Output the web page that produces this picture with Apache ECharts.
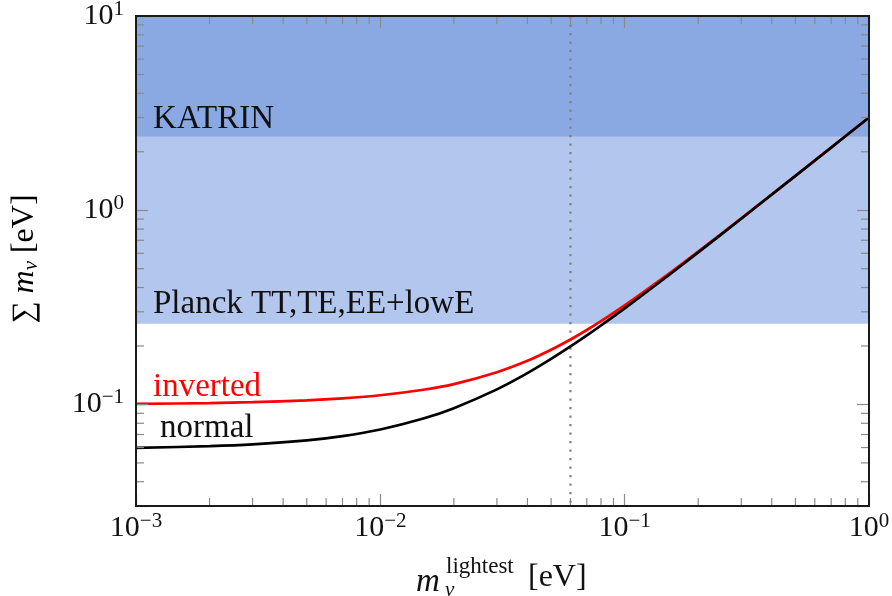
<!DOCTYPE html>
<html>
<head>
<meta charset="utf-8">
<script src="https://cdn.jsdelivr.net/npm/echarts@6/dist/echarts.min.js"></script>
<style>
  html, body { margin: 0; padding: 0; background: #fff; }
  #chart { width: 892px; height: 596px; }
</style>
</head>
<body>
<div id="chart"></div>
<script>
// Sum of neutrino masses versus the lightest neutrino mass (eV), both orderings.
const xMin = 0.001, xMax = 1;
const yMin = 0.03, yMax = 10;

const mLightest   = [0.001, 0.002, 0.003, 0.005, 0.007, 0.01, 0.015, 0.02, 0.03, 0.04, 0.05, 0.06, 0.07, 0.08, 0.1, 0.15, 0.2, 0.3, 0.5, 0.7, 1.0];
const sumNormal   = [0.0597, 0.0610, 0.0623, 0.0653, 0.0687, 0.0743, 0.0846, 0.0957, 0.1196, 0.1450, 0.1715, 0.1988, 0.2266, 0.2549, 0.3122, 0.4584, 0.6064, 0.9043, 1.5026, 2.1018, 3.0013];
const sumInverted = [0.1006, 0.1016, 0.1027, 0.1050, 0.1075, 0.1115, 0.1190, 0.1273, 0.1466, 0.1677, 0.1912, 0.2159, 0.2418, 0.2684, 0.3235, 0.4661, 0.6122, 0.9082, 1.5050, 2.1035, 3.0025];

// Excluded regions: Planck TT,TE,EE+lowE (sum > 0.26 eV) and KATRIN (sum > 2.4 eV)
const bandNames = ['Planck TT,TE,EE+lowE', 'KATRIN'];
const bandLower = [0.26, 2.4];
const bandUpper = [10, 10];
const bandColors = ['#b2c6ee', '#8aa8e2'];

// Reference value of the lightest mass marked by the dotted line
const refLightest = [0.06];

// Log-axis minor tick positions
const xMinorTicks = [0.002, 0.003, 0.004, 0.005, 0.006, 0.007, 0.008, 0.009,
                     0.02, 0.03, 0.04, 0.05, 0.06, 0.07, 0.08, 0.09,
                     0.2, 0.3, 0.4, 0.5, 0.6, 0.7, 0.8, 0.9];
const yMinorTicks = [0.04, 0.05, 0.06, 0.07, 0.08, 0.09,
                     0.2, 0.3, 0.4, 0.5, 0.6, 0.7, 0.8, 0.9,
                     2, 3, 4, 5, 6, 7, 8, 9];

const FONT = 'Liberation Serif';
const TICK_GRAY = '#8a8a8a';
const FRAME = '#1a1a1a';
const INK = '#111';

function powerLabel(v) {
  const e = Math.log10(v);
  if (Math.abs(e - Math.round(e)) > 1e-6) return '';
  const r = Math.round(e);
  return '{b|10}{s|' + (r < 0 ? '\u2212' + (-r) : r) + '}';
}
const powerRich = {
  b: { fontFamily: FONT, fontSize: 30, color: INK },
  s: { fontFamily: FONT, fontSize: 21, color: INK, padding: [0, 0, 14, 0] }
};

function logAxis(kind, pos, min, max, showLabels) {
  return {
    type: 'log', logBase: 10, position: pos, min: min, max: max,
    splitNumber: 3, z: 6,
    axisLine: { show: true, onZero: false, lineStyle: { color: FRAME, width: 2 } },
    axisTick: { show: true, inside: true, length: 12, lineStyle: { color: TICK_GRAY, width: 1.2 } },
    minorTick: { show: false },
    splitLine: { show: false },
    axisLabel: showLabels ? {
      show: true, formatter: powerLabel, rich: powerRich,
      margin: kind === 'x' ? 5 : 12, hideOverlap: false
    } : { show: false }
  };
}

function label(text, x, y, opts) {
  opts = opts || {};
  return {
    type: 'text', x: x, y: y, z: 10, rotation: opts.rotation || 0,
    style: {
      text: text, fontFamily: FONT, fontSize: opts.size || 33,
      fontStyle: opts.italic ? 'italic' : 'normal',
      fill: opts.color || INK, verticalAlign: 'middle', align: opts.align || 'left'
    }
  };
}

const chart = echarts.init(document.getElementById('chart'), null, { renderer: 'canvas' });

const option = {
  animation: false,
  backgroundColor: '#fff',
  grid: { left: 136, right: 23, top: 16, bottom: 90, outerBoundsMode: 'none', containLabel: false },
  xAxis: [logAxis('x', 'bottom', xMin, xMax, true), logAxis('x', 'top', xMin, xMax, false)],
  yAxis: [logAxis('y', 'left', yMin, yMax, true), logAxis('y', 'right', yMin, yMax, false)],
  series: [
    {
      // shaded exclusion bands
      type: 'custom', silent: true, z: 1, clip: true,
      data: bandLower.map((lo, i) => [xMin, lo, bandUpper[i], i]),
      encode: { x: 0, y: 1 },
      renderItem: function (params, api) {
        const cs = params.coordSys;
        const yLo = api.coord([xMin, api.value(1)])[1];
        const yHi = api.coord([xMin, api.value(2)])[1];
        const top = Math.max(yHi, cs.y);
        return {
          type: 'rect',
          shape: { x: cs.x, y: top, width: cs.width, height: yLo - top },
          style: { fill: bandColors[api.value(3)] }
        };
      }
    },
    {
      // dotted vertical reference line
      type: 'custom', silent: true, z: 2, clip: true,
      data: refLightest.map(v => [v, yMin]),
      renderItem: function (params, api) {
        const cs = params.coordSys;
        const px = api.coord([api.value(0), yMin])[0];
        return {
          type: 'line',
          shape: { x1: px, y1: cs.y, x2: px, y2: cs.y + cs.height },
          style: { stroke: '#808080', lineWidth: 2.2, lineDash: [2.2, 6.3] }
        };
      }
    },
    {
      name: 'inverted', type: 'line', z: 3,
      data: mLightest.map((m, i) => [m, sumInverted[i]]),
      showSymbol: false, smooth: 0.3,
      lineStyle: { color: '#ff0000', width: 2.7 },
      itemStyle: { color: '#ff0000' }
    },
    {
      name: 'normal', type: 'line', z: 4,
      data: mLightest.map((m, i) => [m, sumNormal[i]]),
      showSymbol: false, smooth: 0.3,
      lineStyle: { color: '#000000', width: 2.7 },
      itemStyle: { color: '#000000' }
    },
    {
      // minor ticks on bottom and top edges
      type: 'custom', silent: true, z: 5, clip: false,
      data: xMinorTicks.map(v => [v, yMin]),
      renderItem: function (params, api) {
        const cs = params.coordSys;
        const px = api.coord([api.value(0), yMin])[0];
        const st = { stroke: TICK_GRAY, lineWidth: 1.2 };
        return {
          type: 'group', children: [
            { type: 'line', shape: { x1: px, y1: cs.y + cs.height, x2: px, y2: cs.y + cs.height - 8 }, style: st },
            { type: 'line', shape: { x1: px, y1: cs.y, x2: px, y2: cs.y + 8 }, style: st }
          ]
        };
      }
    },
    {
      // minor ticks on left and right edges
      type: 'custom', silent: true, z: 5, clip: false,
      data: yMinorTicks.map(v => [xMin, v]),
      renderItem: function (params, api) {
        const cs = params.coordSys;
        const py = api.coord([xMin, api.value(1)])[1];
        const st = { stroke: TICK_GRAY, lineWidth: 1.2 };
        return {
          type: 'group', children: [
            { type: 'line', shape: { x1: cs.x, y1: py, x2: cs.x + 8, y2: py }, style: st },
            { type: 'line', shape: { x1: cs.x + cs.width, y1: py, x2: cs.x + cs.width - 8, y2: py }, style: st }
          ]
        };
      }
    },
    {
      // plot frame drawn over everything in the plotting area
      type: 'custom', silent: true, z: 7, clip: false,
      data: [[xMin, yMin]],
      renderItem: function (params) {
        const cs = params.coordSys;
        return {
          type: 'rect',
          shape: { x: cs.x, y: cs.y, width: cs.width, height: cs.height },
          style: { fill: 'none', stroke: FRAME, lineWidth: 2 }
        };
      }
    }
  ],
  graphic: [
    label(bandNames[1], 153, 119),
    label(bandNames[0], 153, 304),
    label('inverted', 153, 387, { color: '#ff0000' }),
    label('normal', 160, 428),

    // x-axis title: m_ν^lightest [eV]
    label('m', 416, 582, { italic: true }),
    label('lightest', 446, 567, { size: 23 }),
    label('\u03bd', 445, 590, { size: 21, italic: true }),
    label('[eV]', 528, 578, { size: 32 }),

    // y-axis title: ∑ m_ν [eV]
    {
      type: 'text', x: 25, y: 259, rotation: Math.PI / 2, z: 10,
      style: {
        text: '{sum|\u2211}{m| m}{nu|\u03bd}{t| [eV]}',
        align: 'center', verticalAlign: 'middle',
        rich: {
          sum: { fontFamily: FONT, fontSize: 31, color: INK },
          m: { fontFamily: FONT, fontStyle: 'italic', fontSize: 32, color: INK },
          nu: { fontFamily: FONT, fontStyle: 'italic', fontSize: 21, color: INK, padding: [12, 0, 0, 0] },
          t: { fontFamily: FONT, fontSize: 32, color: INK }
        }
      }
    }
  ]
};

chart.setOption(option);
</script>
</body>
</html>
